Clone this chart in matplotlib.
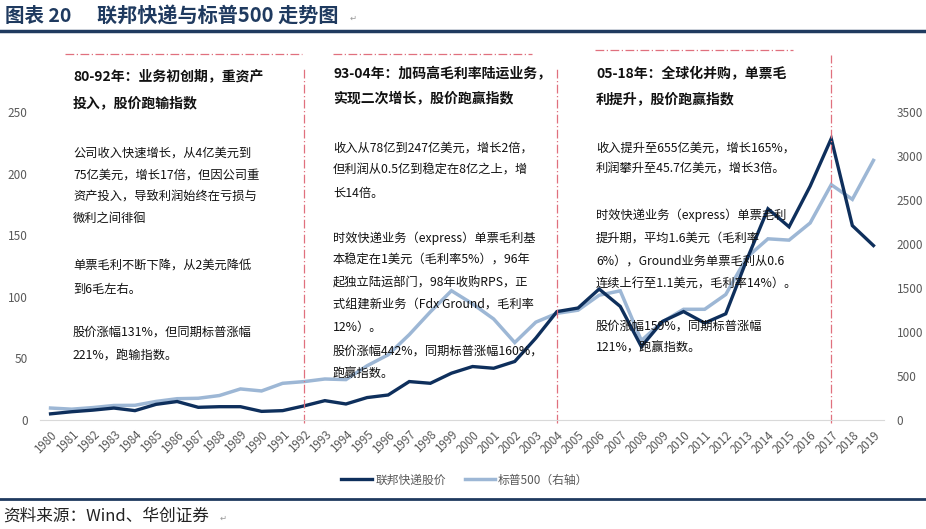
import matplotlib
matplotlib.use('Agg')
import matplotlib.pyplot as plt

plt.rcParams['font.family'] = ['Noto Sans CJK SC', 'DejaVu Sans']

years = [str(y) for y in range(1980, 2020)]
# 联邦快递股价 (left axis)
fedex = [5.0, 6.7, 8.0, 9.7, 7.6, 12.7, 15.0, 10.3, 10.8, 10.8,
         7.0, 7.6, 11.4, 15.7, 13.0, 18.2, 20.3, 31.2, 29.8, 38.0,
         43.4, 42.0, 47.5, 66.5, 88.0, 90.9, 106.3, 92.2, 59.6, 80.0,
         88.0, 78.7, 86.2, 130.2, 171.4, 156.8, 189.8, 228.4, 157.8, 141.6]
# 标普500 (right axis)
sp500 = [136, 123, 141, 165, 167, 211, 242, 247, 278, 353,
         330, 417, 436, 466, 459, 616, 741, 970, 1229, 1469,
         1320, 1148, 880, 1112, 1212, 1248, 1418, 1468, 903, 1115,
         1258, 1258, 1426, 1848, 2059, 2044, 2239, 2674, 2507, 2950]
left_ticks = [0, 50, 100, 150, 200, 250]
right_ticks = [0, 500, 1000, 1500, 2000, 2500, 3000, 3500]
split_years = ['1992', '2004', '2017']

W, H = 926, 529
DARK = '#0E2F5C'
LIGHT = '#9DB7D5'
RED = '#E0707E'
NAVY = '#1F3A5F'
GRAY = '#595959'


def px(x, y):
    return x / W, 1 - y / H


fig = plt.figure(figsize=(W / 100, H / 100), dpi=100)

# title and rules
fig.text(*px(5, 16), '图表 20', fontsize=14, fontweight='bold', color=NAVY,
         va='center', ha='left')
fig.text(*px(97, 16), '联邦快递与标普500 走势图', fontsize=14.5,
         fontweight='bold', color=NAVY, va='center', ha='left')
fig.text(*px(350, 18), '↵', fontsize=6, color='#999999', va='center',
         family='DejaVu Sans')
fig.add_artist(plt.Line2D([0, 1], [1 - 31 / H] * 2, color=NAVY, lw=2.5))
fig.add_artist(plt.Line2D([0, 1], [1 - 499 / H] * 2, color=NAVY, lw=2.0))
fig.text(*px(3, 516), '资料来源：Wind、华创证券', fontsize=12,
         style='italic', color='#222222', va='center', ha='left')
fig.text(*px(220, 518), '↵', fontsize=6, color='#999999', va='center',
         family='DejaVu Sans')

ax = fig.add_axes([40 / W, 1 - 420 / H, 844 / W, 308 / H])
ax2 = ax.twinx()

x = list(range(len(years)))
ax2.plot(x, sp500, color=LIGHT, lw=2.5, label='标普500（右轴）',
         solid_joinstyle='miter')
ax.plot(x, fedex, color=DARK, lw=2.4, label='联邦快递股价',
        solid_joinstyle='miter')
ax.set_zorder(ax2.get_zorder() + 1)
ax.patch.set_visible(False)

ax.set_xlim(-0.5, len(years) - 0.5)
ax.set_ylim(0, 250)
ax2.set_ylim(0, 3500)
ax.set_yticks(left_ticks)
ax2.set_yticks(right_ticks)
ax.set_xticks(x)
ax.set_xticklabels(years, rotation=45, ha='right', rotation_mode='anchor')

for s in ['top', 'left', 'right']:
    ax.spines[s].set_visible(False)
for s in ax2.spines.values():
    s.set_visible(False)
ax.spines['bottom'].set_color('#D9D9D9')
ax.tick_params(axis='y', length=0, pad=9, labelcolor=GRAY, labelsize=8.5)
ax.tick_params(axis='x', length=0, pad=6, labelcolor=GRAY, labelsize=8.3)
ax2.tick_params(axis='y', length=0, pad=9, labelcolor=GRAY, labelsize=8.5)

# period separators
dash = (0, (7, 2, 1, 2))
tops = {'1992': 1.146, '2004': 1.146, '2017': 1.185}
for yr in split_years:
    i = years.index(yr)
    ax.axvline(i, ymin=-0.01, ymax=tops[yr], color=RED, lw=0.9,
               linestyle=dash, clip_on=False)
xt = ax.get_xaxis_transform()
for x0, x1, yy in [(0.7, 11.9, 1.188), (13.4, 22.8, 1.188), (25.8, 35.2, 1.2)]:
    ax.plot([x0, x1], [yy, yy], transform=xt, color=RED, lw=0.9,
            linestyle=dash, clip_on=False)

# annotation blocks
blocks = [
    (73, [(76, '80-92年：业务初创期，重资产', True),
          (103, '投入，股价跑输指数', True),
          (153, '公司收入快速增长，从4亿美元到', False),
          (175, '75亿美元，增长17倍，但因公司重', False),
          (197, '资产投入，导致利润始终在亏损与', False),
          (218, '微利之间徘徊', False),
          (265, '单票毛利不断下降，从2美元降低', False),
          (289, '到6毛左右。', False),
          (332, '股价涨幅131%，但同期标普涨幅', False),
          (355, '221%，跑输指数。', False)]),
    (333, [(74, '93-04年：加码高毛利率陆运业务，', True),
           (99, '实现二次增长，股价跑赢指数', True),
           (148, '收入从78亿到247亿美元，增长2倍，', False),
           (170, '但利润从0.5亿到稳定在8亿之上，增', False),
           (193, '长14倍。', False),
           (238, '时效快递业务（express）单票毛利基', False),
           (260, '本稳定在1美元（毛利率5%），96年', False),
           (283, '起独立陆运部门，98年收购RPS，正', False),
           (305, '式组建新业务（Fdx Ground，毛利率', False),
           (327, '12%）。', False),
           (351, '股价涨幅442%，同期标普涨幅160%，', False),
           (373, '跑赢指数。', False)]),
    (596, [(74, '05-18年：全球化并购，单票毛', True),
           (99, '利提升，股价跑赢指数', True),
           (148, '收入提升至655亿美元，增长165%，', False),
           (169, '利润攀升至45.7亿美元，增长3倍。', False),
           (215, '时效快递业务（express）单票毛利', False),
           (238, '提升期，平均1.6美元（毛利率', False),
           (261, '6%），Ground业务单票毛利从0.6', False),
           (284, '连续上行至1.1美元，毛利率14%）。', False),
           (326, '股价涨幅159%，同期标普涨幅', False),
           (348, '121%，跑赢指数。', False)]),
]
for bx, lines in blocks:
    for by, txt, bold in lines:
        fig.text(*px(bx, by), txt, fontsize=10 if bold else 8.8,
                 fontweight='bold' if bold else 'normal', color='#111111',
                 va='center', ha='left', zorder=5)

h1, l1 = ax.get_legend_handles_labels()
h2, l2 = ax2.get_legend_handles_labels()
fig.legend(h1 + h2, l1 + l2, loc='center', bbox_to_anchor=px(465, 480),
           ncol=2, frameon=False, fontsize=8.5, labelcolor=GRAY,
           handlelength=2.6, handletextpad=0.25, columnspacing=1.6)

fig.savefig('out.png', dpi=100)
